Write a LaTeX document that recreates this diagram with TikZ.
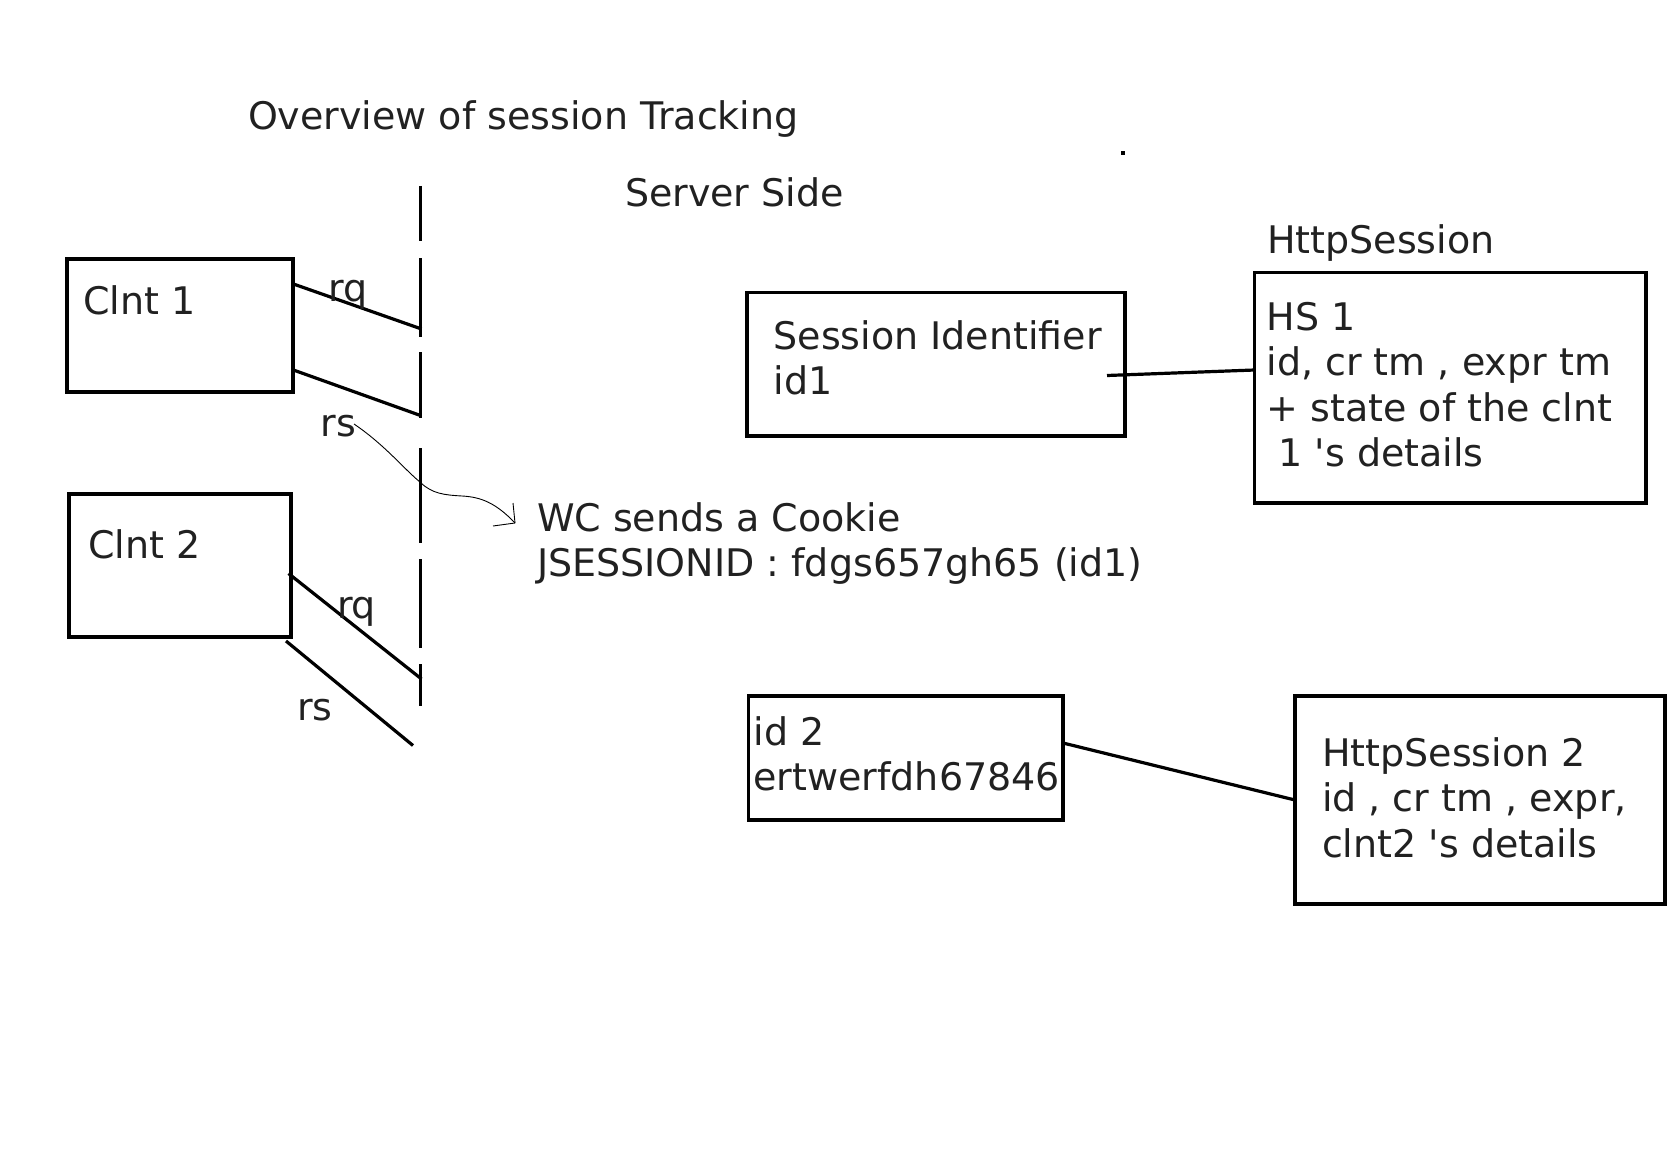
\documentclass[tikz,border=0pt]{standalone}
\usepackage{fontspec}
\setmainfont{DejaVu Sans}[Ligatures=TeXOff]
\newcommand\mlines[1]{\vtop{\baselineskip=45.5pt\lineskiplimit=-100pt\lineskip=0pt #1}}
\tikzset{
  every node/.style={inner sep=0pt, outer sep=0pt},
  box/.style={draw, line width=3.2pt, anchor=north west},
  txt/.style={anchor=base west, text=black!87, font=\fontsize{38}{45.5}\selectfont},
  wire/.style={line width=3.2pt},
  thinwire/.style={line width=0.9pt},
}
\begin{document}
\begin{tikzpicture}[x=1pt, y=-1pt]
\useasboundingbox[fill=white] (0,0) rectangle (1677,1169);

% texts
\node[txt] (title) at (248,130) {Overview of session Tracking};
\node[txt] (server) at (625,207) {Server Side};
\node[txt] (hslabel) at (1267,253) {HttpSession};

% client boxes
\node[box, minimum width=226pt, minimum height=133pt] (c1) at (67,259) {};
\node[txt] (c1t) at (83,314) {Clnt 1};
\node[box, minimum width=222pt, minimum height=143pt] (c2) at (69,494) {};
\node[txt] (c2t) at (88,558) {Clnt 2};

% server boundary (dashed)
\coordinate (b0) at (420.5,186);
\coordinate (b1) at (420.5,706);
\draw[wire, dash pattern=on 55pt off 17pt on 79pt off 15pt on 66pt off 30pt on 95pt off 16pt on 89pt off 16pt on 60pt off 10pt] (b0) -- (b1);

% request/response lines
\coordinate (q1a) at (292,283.5); \coordinate (q1b) at (421.5,329);
\coordinate (s1a) at (292,369.5); \coordinate (s1b) at (420.5,415.5);
\coordinate (q2a) at (288.5,573.5); \coordinate (q2b) at (421.5,679);
\coordinate (s2a) at (286,641); \coordinate (s2b) at (413,745.5);
\draw[wire] (q1a) -- (q1b);
\draw[wire] (s1a) -- (s1b);
\draw[wire] (q2a) -- (q2b);
\draw[wire] (s2a) -- (s2b);
\node[txt] (rq1) at (328.5,301.5) {rq};
\node[txt] (rs1) at (320.5,436.5) {rs};
\node[txt] (rq2) at (337,618) {rq};
\node[txt] (rs2) at (297,720) {rs};

% cookie arrow
\coordinate (ca0) at (354,424);
\coordinate (ca1) at (515,523);
\coordinate (cah1) at (513,503);
\coordinate (cah2) at (493,526);
\draw[thinwire, line join=round] (ca0) .. controls (385,445) and (405,470) .. (420,482)
  .. controls (432,494) and (445,495) .. (462,496)
  .. controls (480,497) and (495,502) .. (ca1);
\draw[thinwire, line join=round] (cah1) -- (ca1) -- (cah2);
\node[txt] (wc) at (537,531) {\mlines{\hbox{WC sends a Cookie}\hbox{JSESSIONID : fdgs657gh65 (id1)}}};

% session identifier and HS 1
\node[box, minimum width=378pt, minimum height=143.5pt] (sid) at (747,292.5) {};
\node[txt] (sidt) at (773.5,349) {\mlines{\hbox{Session Identifier}\hbox{id1}}};
\node[box, minimum width=391.5pt, minimum height=230.5pt] (hs1) at (1254.5,272.5) {};
\node[txt] (hs1t) at (1266.5,330) {\mlines{\hbox{HS 1}\hbox{id, cr tm , expr tm}\hbox{+ state of the clnt}\hbox{\ 1 's details}}};
\coordinate (l1a) at (1107,375.5);
\coordinate (l1b) at (1254.5,370);
\draw[wire] (l1a) -- (l1b);

% id 2 and HttpSession 2
\node[box, minimum width=314.5pt, minimum height=124pt] (id2) at (748.5,696) {};
\node[txt] (id2t) at (753.5,745) {\mlines{\hbox{id 2}\hbox{ertwerfdh67846}}};
\node[box, minimum width=370pt, minimum height=208pt] (hs2) at (1295,696) {};
\node[txt] (hs2t) at (1322,766) {\mlines{\hbox{HttpSession 2}\hbox{id , cr tm , expr,}\hbox{clnt2 's details}}};
\coordinate (l2a) at (1063,743);
\coordinate (l2b) at (1295,800);
\draw[wire] (l2a) -- (l2b);

% stray dot
\fill (1121,151) rectangle (1125,155);
\end{tikzpicture}
\end{document}
